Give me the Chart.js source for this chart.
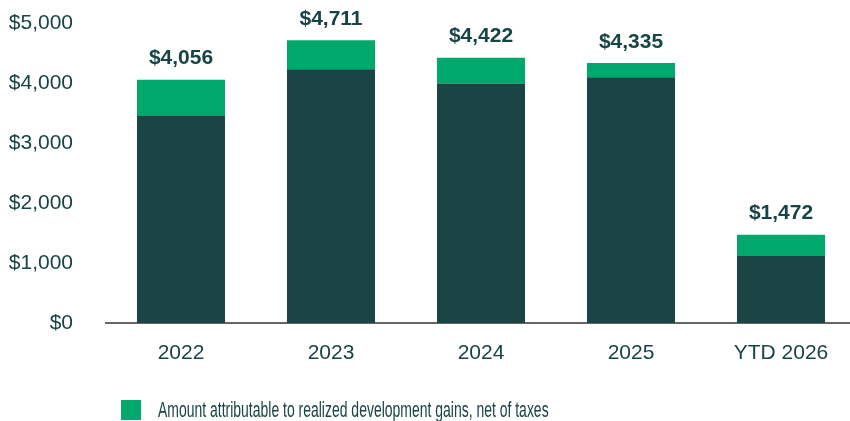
<!DOCTYPE html>
<html>
<head>
<meta charset="utf-8">
<script src="https://cdn.jsdelivr.net/npm/chart.js@4"></script>
<style>
  html, body { margin: 0; padding: 0; background: #ffffff; overflow: hidden; width: 850px; height: 421px; }
  #wrap { position: absolute; left: 0; top: 0; width: 856px; height: 421px; }
  #legend { position: absolute; left: 121px; top: 399px; height: 22px; white-space: nowrap; }
  #legend .sw { position: absolute; left: 0; top: 1px; width: 20px; height: 20px; background: #00A86B; }
  #legend .tx { position: absolute; left: 37px; top: 0; font: 22px "Liberation Sans", Arial, sans-serif; line-height: 22px; color: #174446; transform: scaleX(0.635); transform-origin: 0 0; }
</style>
</head>
<body>
<div id="wrap"><canvas id="c"></canvas></div>
<div id="legend"><span class="sw"></span><span class="tx" id="legendText"></span></div>
<script>
const categories = ['2022', '2023', '2024', '2025', 'YTD 2026'];
const baseValues = [3450, 4228, 3990, 4095, 1117];
const gainValues = [606, 483, 432, 240, 355];
const totalValues = [4056, 4711, 4422, 4335, 1472];
const yTicks = [0, 1000, 2000, 3000, 4000, 5000];
const gainLabel = 'Amount attributable to realized development gains, net of taxes';

const textColor = '#174446';
const fmt = v => '$' + v.toLocaleString('en-US');

document.getElementById('legendText').textContent = gainLabel;

const totalsPlugin = {
  id: 'totals',
  afterDatasetsDraw(chart) {
    const ctx = chart.ctx;
    const meta = chart.getDatasetMeta(1);
    ctx.save();
    ctx.font = 'bold 21px "Liberation Sans", Arial, sans-serif';
    ctx.fillStyle = textColor;
    ctx.textAlign = 'center';
    ctx.textBaseline = 'middle';
    meta.data.forEach((bar, i) => {
      ctx.fillText(fmt(totalValues[i]), bar.x, bar.y - 21);
    });
    ctx.restore();
  }
};

new Chart(document.getElementById('c'), {
  type: 'bar',
  data: {
    labels: categories,
    datasets: [
      { label: 'Base', data: baseValues, backgroundColor: '#1B4444', borderWidth: 0 },
      { label: gainLabel, data: gainValues, backgroundColor: '#00A86B', borderWidth: 0 }
    ]
  },
  options: {
    responsive: true,
    maintainAspectRatio: false,
    animation: false,
    layout: { padding: { top: 23, left: 0, right: 0, bottom: 0 } },
    datasets: { bar: { categoryPercentage: 1, barPercentage: 0.587 } },
    plugins: {
      legend: { display: false },
      tooltip: { enabled: false }
    },
    scales: {
      x: {
        stacked: true,
        grid: { display: false, drawTicks: true, tickLength: 18 },
        border: { display: true, color: '#666666', width: 2 },
        ticks: {
          color: textColor,
          padding: 0,
          font: { family: '"Liberation Sans", Arial, sans-serif', size: 21 }
        },
        afterFit(scale) { scale.height = 98; }
      },
      y: {
        stacked: true,
        min: 0,
        max: 5000,
        grid: { display: false, drawTicks: true, tickLength: 33 },
        border: { display: false },
        afterBuildTicks(scale) { scale.ticks = yTicks.map(v => ({ value: v })); },
        ticks: {
          color: textColor,
          padding: 0,
          font: { family: '"Liberation Sans", Arial, sans-serif', size: 21 },
          callback: v => fmt(v)
        },
        afterFit(scale) { scale.width = 106; }
      }
    }
  },
  plugins: [totalsPlugin]
});
</script>
</body>
</html>
